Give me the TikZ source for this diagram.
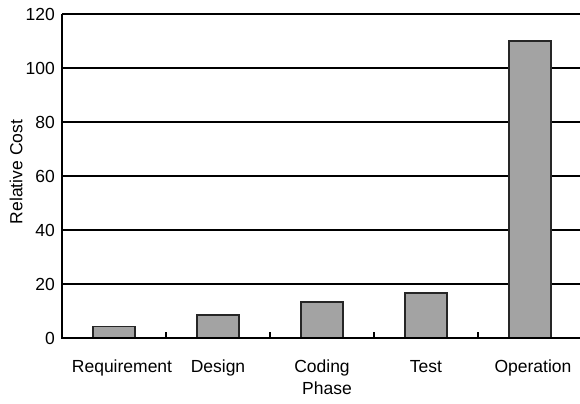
\documentclass[tikz,border=0pt]{standalone}
\usepackage{fontspec}
\setmainfont{Liberation Sans}
\begin{document}
\begin{tikzpicture}[x=1bp,y=-1bp,
  every node/.style={font=\fontsize{17.5bp}{20bp}\selectfont, inner sep=0pt},
  gridline/.style={line width=1.6bp, black},
  axisline/.style={line width=2bp, black},
  bar/.style={draw=black!85, line width=1.8bp, fill=gray!72},
  ticklabel/.style={anchor=east},
  catlabel/.style={anchor=base}]
  \useasboundingbox (0,0) rectangle (580,403);
  % value v sits at y = 338 - 2.7 v
  \foreach \v in {20,40,...,120}
    \draw[gridline] (62,{338-2.7*\v}) -- (580,{338-2.7*\v});
  \foreach \v in {0,20,...,120}
    \node[ticklabel] (yl\v) at (55,{338-2.7*\v}) {\v};
  % bars
  \foreach \c/\v [count=\i from 0] in {114/4.3,218/8.5,322/13.3,426/16.6,530/110}
    \draw[bar] (\c-21,338) rectangle (\c+21,{338-2.7*\v});
  % axes
  \draw[axisline] (62,14) -- (62,338) -- (580,338);
  \foreach \x in {166,270,374,478}
    \draw[line width=1.5bp] (\x,338) -- (\x,332);
  % category labels
  \foreach \c/\t in {122/Requirement,218/Design,322/Coding,426/Test,533/Operation}
    \node[catlabel] (cat\t) at (\c,372) {\t};
  \node[catlabel] (xtitle) at (327,394) {Phase};
  \node[rotate=90] (ytitle) at (16,172) {Relative Cost};
\end{tikzpicture}
\end{document}
